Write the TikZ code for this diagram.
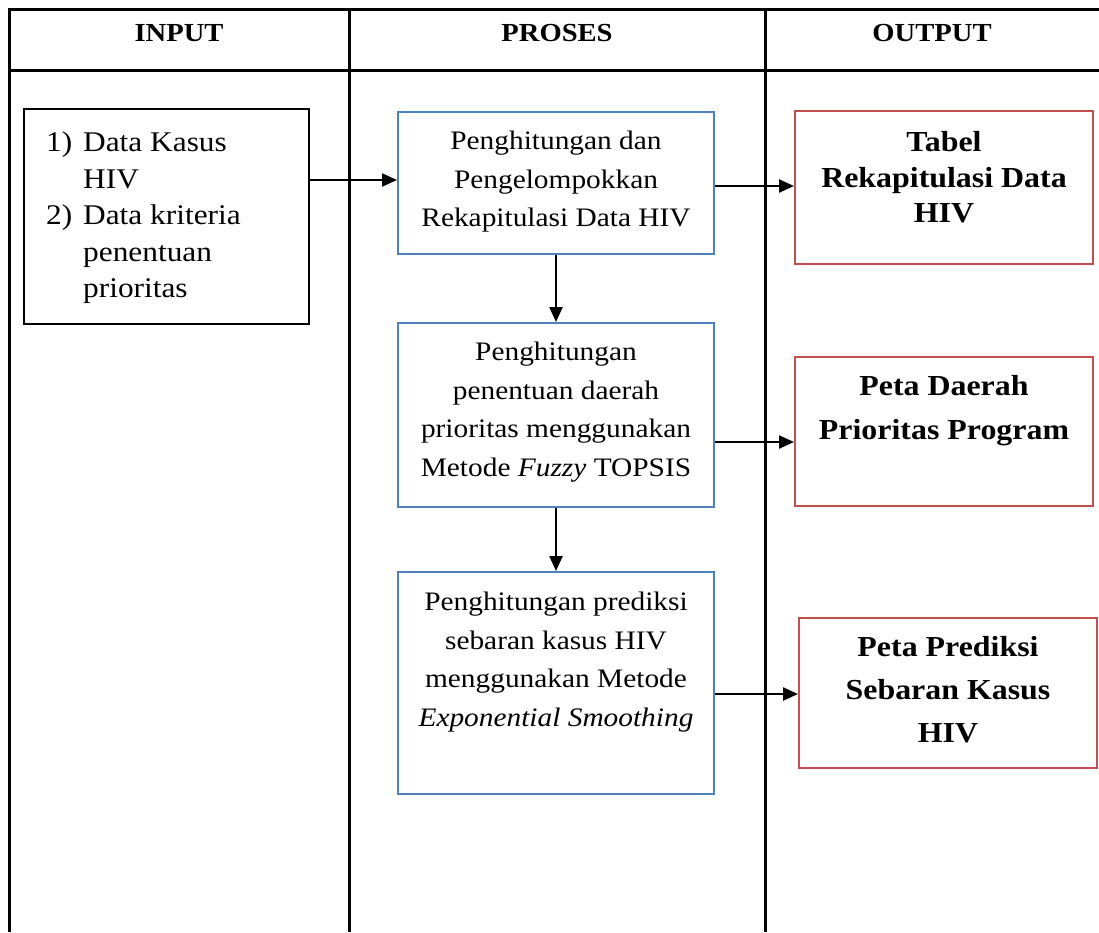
\documentclass[tikz,border=0pt]{standalone}
\usepackage{fontspec}
\setmainfont{Liberation Serif}[FakeStretch=1.1]
\usetikzlibrary{arrows.meta}

\definecolor{procblue}{RGB}{79,129,189}
\definecolor{outred}{RGB}{192,80,77}

\begin{document}
\begin{tikzpicture}[x=1pt,y=-1pt,
  grid/.style={line width=3pt, black},
  inbox/.style={draw=black, line width=2pt, rectangle, inner sep=0pt},
  procbox/.style={draw=procblue, line width=2pt, rectangle, inner sep=0pt, minimum width=316pt},
  outbox/.style={draw=outred, line width=2pt, rectangle, inner sep=0pt, minimum width=298pt},
  head/.style={font=\fontsize{26}{30}\selectfont\bfseries, inner sep=0pt},
  intext/.style={align=left, font=\fontsize{28.5}{36.5}\selectfont, inner sep=0pt, anchor=west},
  proctext/.style={align=center, font=\fontsize{26.7}{38.5}\selectfont, inner sep=0pt},
  outtext/.style={align=center, font=\fontsize{29}{35.5}\selectfont\bfseries, inner sep=0pt},
  flow/.style={line width=2.4pt, -{Triangle[length=15pt,width=13pt]}}
]
\useasboundingbox (0,0) rectangle (1099,932);

% table frame and column rules
\draw[grid] (9,932) -- (9,9) -- (1099,9);
\draw[grid] (9,70) -- (1099,70);
\draw[grid] (349,9) -- (349,932);
\draw[grid] (765,9) -- (765,932);

% column headings
\node[head] (hin)  at (179,33) {INPUT};
\node[head] (hpro) at (557,33) {PROSES};
\node[head] (hout) at (932,33) {OUTPUT};

% input
\node[inbox, minimum width=285pt, minimum height=215pt] (in) at (166.5,216.5) {};
\node[intext] (intx) at (46,218) {%
  \makebox[37pt][l]{1)}Data Kasus\\
  \hspace*{37pt}HIV\\
  \makebox[37pt][l]{2)}Data kriteria\\
  \hspace*{37pt}penentuan\\
  \hspace*{37pt}prioritas};

% process steps
\node[procbox, minimum height=142pt] (p1) at (556,183) {};
\node[proctext] (p1t) at (556,182) {Penghitungan dan\\Pengelompokkan\\Rekapitulasi Data HIV};

\node[procbox, minimum height=184pt] (p2) at (556,415) {};
\node[proctext] (p2t) at (556,412) {Penghitungan\\penentuan daerah\\prioritas menggunakan\\Metode \textit{Fuzzy} TOPSIS};

\node[procbox, minimum height=222pt] (p3) at (556,683) {};
\node[proctext] (p3t) at (556,662) {Penghitungan prediksi\\sebaran kasus HIV\\menggunakan Metode\\\textit{Exponential Smoothing}};

% outputs
\node[outbox, minimum height=153pt] (o1) at (944,187.5) {};
\node[outtext] (o1t) at (944,177.5) {Tabel\\Rekapitulasi Data\\HIV};

\node[outbox, minimum height=149pt] (o2) at (944,431.5) {};
\node[outtext, font=\fontsize{29}{44}\selectfont\bfseries] (o2t) at (944,410.5) {Peta Daerah\\Prioritas Program};

\node[outbox, minimum height=150pt] (o3) at (948,693) {};
\node[outtext, font=\fontsize{29}{43}\selectfont\bfseries] (o3t) at (948,690) {Peta Prediksi\\Sebaran Kasus\\HIV};

% connectors
\draw[flow] (in.east |- 0,180) -- (p1.west |- 0,180);
\draw[flow] (p1.east |- 0,186) -- (o1.west |- 0,186);
\draw[flow] (p1.south) -- (p2.north);
\draw[flow] (p2.east |- 0,442) -- (o2.west |- 0,442);
\draw[flow] (p2.south) -- (p3.north);
\draw[flow] (p3.east |- 0,694) -- (o3.west |- 0,694);
\end{tikzpicture}
\end{document}
